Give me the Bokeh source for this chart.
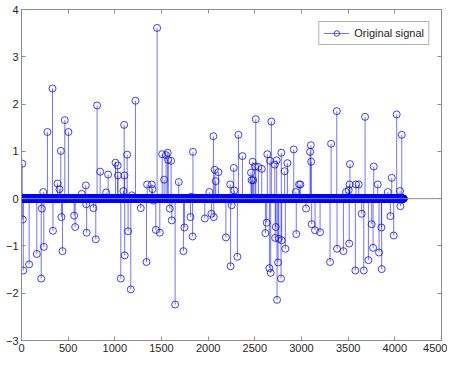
import numpy as np
from bokeh.plotting import figure
from bokeh.models import (Range1d, LinearAxis, Span, Legend, LegendItem,
                          ColumnDataSource, FixedTicker)
from bokeh.embed import file_html
from bokeh.resources import INLINE

# ---- data -------------------------------------------------------------
N = 4096
spike_idx = [8, 14, 19, 82, 164, 211, 218, 233, 239, 278, 332, 337, 386, 407,
             421, 428, 439, 464, 503, 564, 575, 646, 689, 694, 698, 771, 796,
             810, 843, 907, 928, 1007, 1030, 1034, 1064, 1092, 1100, 1103,
             1106, 1132, 1142, 1171, 1182, 1221, 1278, 1339, 1346, 1396, 1403,
             1414, 1439, 1453, 1482, 1507, 1528, 1549, 1567, 1571, 1589, 1603,
             1610, 1646, 1685, 1735, 1746, 1810, 1817, 1833, 1837, 1964, 2013,
             2035, 2056, 2060, 2071, 2081, 2110, 2190, 2236, 2240, 2252, 2274,
             2281, 2313, 2324, 2367, 2459, 2465, 2477, 2483, 2502, 2510, 2538,
             2574, 2613, 2627, 2634, 2656, 2663, 2670, 2677, 2714, 2718, 2724,
             2734, 2738, 2749, 2756, 2781, 2784, 2788, 2820, 2827, 2849, 2917,
             2940, 2944, 2974, 2988, 3049, 3092, 3100, 3104, 3109, 3145, 3199,
             3306, 3317, 3378, 3381, 3449, 3477, 3506, 3511, 3515, 3519, 3577,
             3584, 3613, 3645, 3667, 3681, 3717, 3752, 3767, 3774, 3817, 3831,
             3856, 3859, 3924, 3952, 3967, 3988, 4020, 4056, 4060, 4074]
spike_val = [0.74, -0.44, -1.52, -1.39, -1.17, -1.69, -0.21, 0.14, -1.02, 1.41,
             2.33, -0.68, 0.32, 0.2, 1.01, -0.39, -1.11, 1.66, 1.41, -0.36,
             -0.6, 0.1, 0.28, -0.12, -0.72, -0.2, -0.86, 1.97, 0.57, 0.13,
             0.51, 0.76, 0.7, 0.49, -1.69, 0.16, 1.56, 0.49, -1.2, 0.93, -0.69,
             -1.92, 0.07, 2.07, -0.2, -1.34, 0.3, 0.3, 0.2, -0.04, -0.66, 3.61,
             -0.72, 0.94, 0.4, 0.92, 0.97, 0.82, -0.21, 0.8, -0.46, -2.24, 0.35,
             -1.11, -0.61, -0.39, 0.04, -0.8, 0.99, -0.42, 0.14, -0.32, 1.32,
             -0.39, 0.61, 0.37, 0.56, -0.82, 0.3, -1.43, -0.14, 0.65, 0.17,
             -1.23, 1.35, 0.9, 0.55, 0.39, 0.78, 0.39, 0.68, 1.68, 0.67, 0.63,
             -0.73, -0.51, 0.94, -1.47, 0.8, -1.57, 1.63, 0.72, -0.83, -0.6,
             0.81, -2.14, -1.35, -0.85, -1.69, 0.97, -0.88, 0.58, -1.06, 0.75,
             1.04, 0.14, -0.75, 0.3, 0.3, -0.21, 0.99, 1.13, 0.78, -0.54, -0.67,
             -0.71, -1.34, 1.16, 1.85, -1.06, -1.11, 0.14, 0.18, -0.95, 0.3,
             0.73, -1.52, 0.3, 0.3, -0.32, -1.52, 1.73, -1.3, -0.54, -1.04,
             0.68, 0.3, -1.14, -0.61, -1.49, 0.14, -0.37, 0.44, -0.78, 1.78,
             0.16, -0.16, 1.35]
x_ticks = [0, 500, 1000, 1500, 2000, 2500, 3000, 3500, 4000, 4500]
y_ticks = [-3, -2, -1, 0, 1, 2, 3, 4]
legend_label = "Original signal"

# full sparse signal (zeros except the spikes)
n = np.arange(1, N + 1)
signal = np.zeros(N)
signal[np.array(spike_idx) - 1] = spike_val

src = ColumnDataSource(dict(x=n, y=signal, y0=np.zeros(N)))

# ---- figure -----------------------------------------------------------
FONT = "Liberation Sans"
GRAY = "#8c8c8c"
TXT = "#262626"

p = figure(frame_width=420, frame_height=331,
           x_range=Range1d(0, 4500), y_range=Range1d(-3, 4),
           output_backend="svg", toolbar_location=None,
           min_border_left=21, min_border_top=9, min_border_right=6,
           min_border_bottom=0, background_fill_color="white",
           border_fill_color="white")
p.grid.visible = False
p.outline_line_color = GRAY

p.add_layout(Span(location=0, dimension="width", line_color=GRAY,
                  line_width=1))

seg = p.segment(x0="x", y0="y0", x1="x", y1="y", source=src,
                line_color="#0000ff", line_alpha=0.55, line_width=1)
pts = p.scatter(x="x", y="y", source=src, marker="circle", size=7,
                fill_color=None, line_color="#0000ff", line_alpha=0.75,
                line_width=1)


def style(ax, ticks):
    ax.ticker = FixedTicker(ticks=ticks)
    ax.axis_line_color = GRAY
    ax.major_tick_line_color = GRAY
    ax.major_tick_in = 4
    ax.major_tick_out = 0
    ax.minor_tick_line_color = None
    ax.major_label_text_font = FONT
    ax.major_label_text_font_size = "11px"
    ax.major_label_text_color = TXT
    ax.major_label_standoff = 3


for ax in p.xaxis:
    style(ax, x_ticks)
for ax in p.yaxis:
    style(ax, y_ticks)

# tick marks only (no labels) on the top and right sides of the box
top = LinearAxis()
right = LinearAxis()
for ax, t in ((top, x_ticks), (right, y_ticks)):
    style(ax, t)
    ax.major_label_text_font_size = "1px"
    ax.major_label_text_color = None
    ax.major_label_standoff = 0
p.add_layout(top, "above")
p.add_layout(right, "right")

legend = Legend(items=[LegendItem(label=legend_label, renderers=[seg, pts])],
                location="top_right", margin=12, padding=4, spacing=0,
                glyph_width=26, glyph_height=14, label_height=14,
                label_standoff=5, label_text_font=FONT,
                label_text_font_size="11px", label_text_color=TXT,
                border_line_color="#666666", background_fill_alpha=1.0)
p.add_layout(legend)

open("out.html", "w").write(file_html(p, INLINE))
